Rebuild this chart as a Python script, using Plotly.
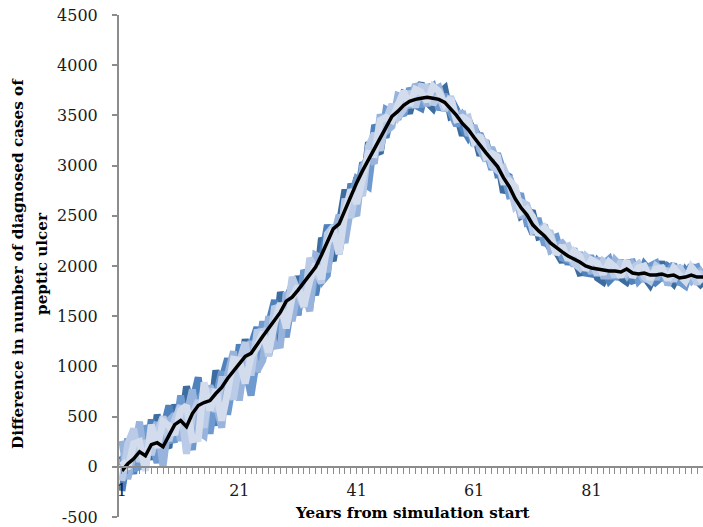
import plotly.graph_objects as go

years = list(range(1, 101))

mean_line = [-40, 30, 80, 150, 110, 220, 240, 200, 310, 420,
             460, 400, 530, 610, 640, 660, 730, 790, 880, 950,
             1020, 1100, 1130, 1220, 1300, 1380, 1460, 1540, 1650, 1690,
             1760, 1840, 1910, 1990, 2110, 2240, 2370, 2420, 2560, 2700,
             2830, 2950, 3060, 3170, 3270, 3380, 3490, 3540, 3600, 3640,
             3660, 3670, 3680, 3670, 3660, 3630, 3570, 3500, 3420, 3360,
             3280, 3200, 3130, 3060, 2990, 2880, 2790, 2670, 2580, 2510,
             2410, 2350, 2300, 2230, 2180, 2140, 2100, 2070, 2040, 2000,
             1980, 1970, 1960, 1950, 1950, 1940, 1970, 1930, 1920, 1930,
             1910, 1910, 1920, 1900, 1910, 1880, 1890, 1910, 1890, 1890]

run_a = [110, -70, 330, 100, 310, 70, 520, 250, 190, 620,
         380, 800, 580, 290, 810, 470, 960, 750, 630, 1070,
         840, 1270, 1030, 940, 1420, 1370, 1210, 1740, 1580, 1470,
         1900, 1680, 1990, 1740, 2280, 2180, 2050, 2410, 2760, 2510,
         2880, 2730, 3230, 3170, 3120, 3500, 3430, 3640, 3640, 3520,
         3740, 3820, 3630, 3570, 3720, 3770, 3490, 3520, 3300, 3460,
         3330, 3100, 3250, 3020, 3070, 2730, 2850, 2770, 2500, 2540,
         2530, 2290, 2300, 2320, 2140, 2040, 2160, 2090, 1930, 1940,
         2020, 1880, 1840, 1980, 2030, 1880, 1840, 1950, 2010, 1890,
         1810, 1940, 2040, 1880, 1820, 1940, 1840, 2010, 1850, 1790]

run_b = [-240, 130, -70, 350, 60, 470, 140, 350, 610, 360,
         660, 200, 650, 890, 460, 710, 410, 870, 1080, 730,
         1220, 850, 1210, 1390, 1080, 1430, 1660, 1350, 1670, 1810,
         1510, 1950, 1900, 1710, 2070, 2410, 2180, 2470, 2340, 2820,
         2640, 3030, 2950, 3380, 3390, 3280, 3550, 3460, 3720, 3700,
         3600, 3570, 3800, 3710, 3580, 3570, 3670, 3560, 3380, 3280,
         3380, 3260, 3070, 3170, 2910, 2920, 2890, 2610, 2670, 2460,
         2320, 2430, 2270, 2170, 2250, 2190, 2020, 2130, 2080, 1930,
         1920, 2050, 1980, 1850, 1910, 2050, 1970, 1850, 1870, 2020,
         1950, 1840, 1890, 2000, 1960, 1820, 1960, 1890, 1970, 1920]

run_c = [10, 280, -20, 0, 410, 270, 40, 300, 260, 270,
         710, 390, 170, 650, 760, 330, 700, 950, 520, 860,
         1020, 980, 710, 1130, 1450, 1110, 1340, 1580, 1290, 1660,
         1520, 1960, 1580, 1930, 1840, 1910, 2410, 2120, 2470, 2670,
         2870, 2830, 2790, 3260, 3180, 3560, 3530, 3570, 3500, 3770,
         3680, 3590, 3740, 3790, 3560, 3710, 3530, 3400, 3500, 3400,
         3200, 3320, 3170, 2960, 3120, 2940, 2700, 2710, 2700, 2430,
         2450, 2450, 2210, 2270, 2290, 2080, 2060, 2170, 1990, 2080,
         2080, 1930, 2020, 2070, 1870, 1980, 2030, 2040, 1850, 1910,
         2000, 2030, 1860, 1930, 2020, 1840, 1800, 1970, 1990, 1830]

run_d = [260, -120, 130, 450, 10, 320, 440, 0, 460, 520,
         260, 530, 770, 350, 310, 810, 630, 390, 920, 1150,
         660, 1070, 1250, 950, 1060, 1500, 1200, 1210, 1740, 1450,
         1760, 1750, 1550, 2110, 2080, 1940, 2280, 2510, 2230, 2580,
         2500, 2990, 3090, 3020, 3510, 3340, 3390, 3700, 3680, 3580,
         3810, 3730, 3600, 3750, 3780, 3590, 3630, 3440, 3540, 3300,
         3400, 3160, 3050, 3180, 3030, 2820, 2890, 2730, 2480, 2600,
         2470, 2310, 2410, 2160, 2200, 2230, 2160, 2000, 2130, 2030,
         1930, 2080, 1900, 1900, 2060, 2000, 1910, 2020, 1960, 1850,
         1980, 1870, 2000, 1810, 1950, 1980, 1910, 1850, 1930, 1970]

run_e = [-140, 230, 380, 50, 260, 120, 340, 500, 260, 470,
         610, 130, 510, 660, 390, 780, 550, 870, 870, 670,
         1040, 1240, 910, 1340, 1350, 1100, 1600, 1530, 1460, 1890,
         1720, 1590, 2080, 1950, 1830, 2320, 2390, 2170, 2670, 2480,
         2790, 2700, 3190, 3320, 3150, 3460, 3610, 3480, 3560, 3740,
         3580, 3790, 3780, 3610, 3700, 3550, 3690, 3460, 3460, 3480,
         3240, 3280, 3230, 3000, 2950, 2980, 2830, 2590, 2640, 2610,
         2350, 2370, 2360, 2330, 2120, 2180, 2200, 2030, 1980, 2100,
         2050, 1910, 2050, 2010, 1890, 2050, 1930, 1980, 2020, 1890,
         1850, 2000, 1960, 1950, 1850, 2000, 1850, 1950, 1820, 1950]

run_f = [60, -20, 230, 250, -40, 420, 190, 450, 410, 320,
         560, 610, 270, 280, 840, 560, 770, 460, 740, 1070,
         1060, 830, 1100, 1190, 1340, 1140, 1430, 1630, 1380, 1690,
         1800, 1600, 1850, 2020, 1870, 2210, 2370, 2120, 2530, 2760,
         2620, 2890, 3120, 3110, 3450, 3480, 3450, 3600, 3740, 3600,
         3760, 3730, 3640, 3790, 3740, 3610, 3670, 3460, 3480, 3440,
         3240, 3300, 3090, 3120, 3090, 2840, 2850, 2790, 2540, 2570,
         2490, 2310, 2380, 2290, 2120, 2200, 2060, 2150, 2100, 1960,
         2060, 2030, 1920, 2040, 1990, 1890, 2050, 1890, 1980, 2000,
         1870, 1970, 1980, 1860, 1980, 1910, 1850, 1990, 1910, 1840]

runs = [run_a, run_b, run_c, run_d, run_e, run_f]
run_colors = ["#3D6C9E", "#4F82BD", "#6E9AD0", "#98B4DC", "#B9CBE6", "#D2DCEC"]

x_tick_labels = ["1", "21", "41", "61", "81"]
y_ticks = [-500, 0, 500, 1000, 1500, 2000, 2500, 3000, 3500, 4000, 4500]
y_tick_labels = ["-500", "0", "500", "1000", "1500", "2000", "2500", "3000", "3500", "4000", "4500"]

AXIS = "#8C8C8C"
SERIF = "DejaVu Serif"

fig = go.Figure()
for vals, col in zip(runs, run_colors):
    fig.add_trace(go.Scatter(x=years, y=vals, mode="lines",
                             line=dict(color=col, width=7),
                             hoverinfo="skip", showlegend=False))
fig.add_trace(go.Scatter(x=years, y=mean_line, mode="lines",
                         line=dict(color="#000000", width=3.5),
                         showlegend=False))

ticktext = [str(v) if str(v) in x_tick_labels else "" for v in years]

fig.update_layout(
    width=703, height=527,
    margin=dict(l=119, r=0, t=15, b=10, autoexpand=False),
    paper_bgcolor="white", plot_bgcolor="white",
    showlegend=False,
    xaxis=dict(
        range=[0.5, 100.0], anchor="free", position=0.1,
        tickmode="array", tickvals=years, ticktext=ticktext,
        ticks="outside", ticklen=6, tickwidth=1, tickcolor=AXIS,
        showline=True, linecolor=AXIS, linewidth=2,
        showgrid=False, zeroline=False,
        tickfont=dict(family=SERIF, size=16, color="#1a1a1a"),
        ticklabelstandoff=3,
    ),
    yaxis=dict(
        range=[-500, 4500], tickmode="array", tickvals=y_ticks, ticktext=y_tick_labels,
        ticks="outside", ticklen=5, tickwidth=1.5, tickcolor=AXIS,
        showline=True, linecolor=AXIS, linewidth=2,
        showgrid=False, zeroline=False,
        tickfont=dict(family=SERIF, size=16, color="#1a1a1a"),
        ticklabelstandoff=11,
    ),
    annotations=[
        dict(text="<b>Years from simulation start</b>", xref="paper", yref="paper",
             x=0.503, y=0, xanchor="center", yanchor="middle", yshift=4,
             showarrow=False, font=dict(family=SERIF, size=15.2, color="#000")),
        dict(text="<b>Difference in number of diagnosed cases of</b>", xref="paper", yref="paper",
             x=0, y=0.504, xshift=-101, xanchor="center", yanchor="middle", textangle=-90,
             showarrow=False, font=dict(family=SERIF, size=15.2, color="#000")),
        dict(text="<b>peptic ulcer</b>", xref="paper", yref="paper",
             x=0, y=0.504, xshift=-77, xanchor="center", yanchor="middle", textangle=-90,
             showarrow=False, font=dict(family=SERIF, size=15.2, color="#000")),
    ],
)

fig.write_html("out.html", config={"displayModeBar": False},
               post_script="document.body.style.margin='0px';")
